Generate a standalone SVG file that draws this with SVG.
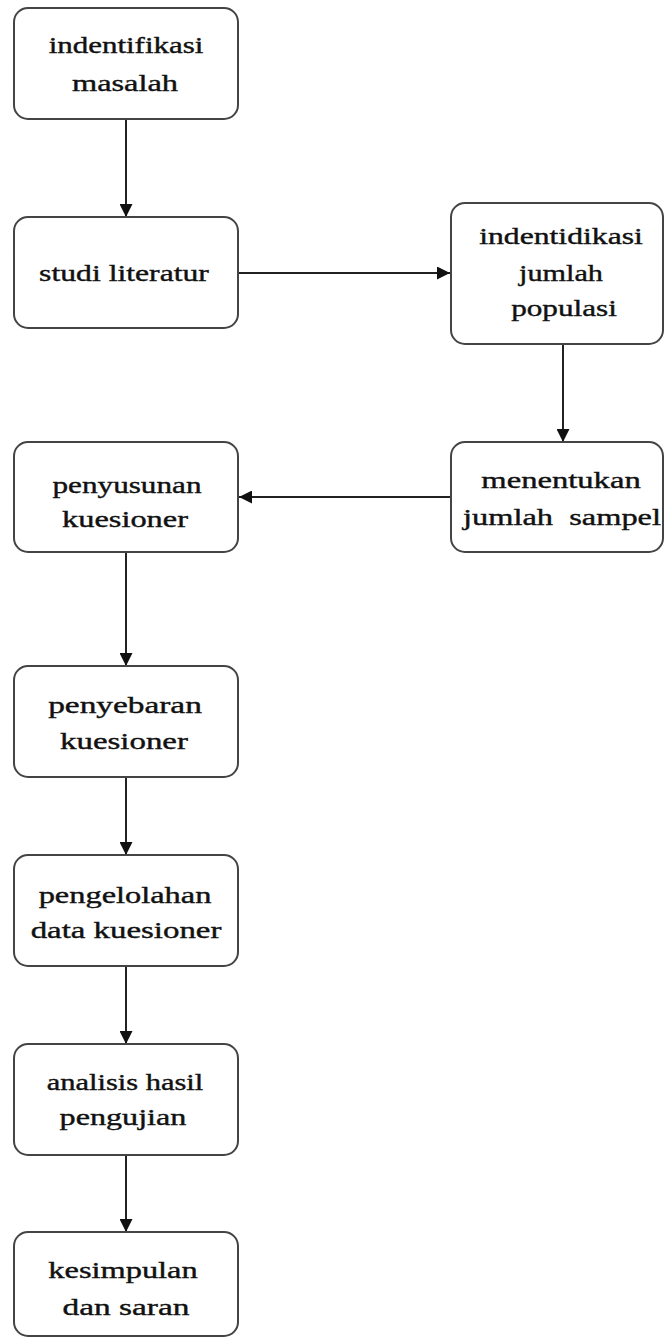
<svg xmlns="http://www.w3.org/2000/svg" width="665" height="1338" viewBox="0 0 665 1338">
<style>
.box{fill:#fff;stroke:#444;stroke-width:2}
.t{font-family:"Liberation Serif","Times New Roman",serif;font-size:24px;fill:#111;stroke:#111;stroke-width:0.4;text-anchor:middle;white-space:pre}
.c{stroke:#222;stroke-width:2;fill:none;marker-end:url(#ah)}
</style>
<defs>
<marker id="ah" markerWidth="13" markerHeight="13" refX="13" refY="6.5" orient="auto" markerUnits="userSpaceOnUse">
<path d="M0,0 L13,6.5 L0,13 Z" fill="#111"/>
</marker>
</defs>
<rect width="665" height="1338" fill="#fff"/>
<g id="connectors">
<line class="c" x1="126" y1="119" x2="126" y2="217"/>
<line class="c" x1="238" y1="273" x2="450" y2="273"/>
<line class="c" x1="563" y1="344" x2="563" y2="442"/>
<line class="c" x1="451" y1="497" x2="239" y2="497"/>
<line class="c" x1="126" y1="552" x2="126" y2="666"/>
<line class="c" x1="126" y1="777" x2="126" y2="855"/>
<line class="c" x1="126" y1="966" x2="126" y2="1044"/>
<line class="c" x1="126" y1="1155" x2="126" y2="1232"/>
</g>
<g id="n1">
<rect class="box" x="14" y="8" width="224" height="111" rx="14"/>
<text class="t" transform="matrix(1.29 0 0 1 126 53)">indentifikasi</text>
<text class="t" transform="matrix(1.35 0 0 1 125 91)">masalah</text>
</g>
<g id="n2">
<rect class="box" x="14" y="217" width="224" height="111" rx="14"/>
<text class="t" transform="matrix(1.32 0 0 1 124 281)">studi literatur</text>
</g>
<g id="n3">
<rect class="box" x="451" y="203" width="212" height="141" rx="14"/>
<text class="t" transform="matrix(1.32 0 0 1 561 244)">indentidikasi</text>
<text class="t" transform="matrix(1.26 0 0 1 561 281)">jumlah</text>
<text class="t" transform="matrix(1.30 0 0 1 564 316)">populasi</text>
</g>
<g id="n4">
<rect class="box" x="14" y="442" width="224" height="110" rx="14"/>
<text class="t" transform="matrix(1.30 0 0 1 127 493)">penyusunan</text>
<text class="t" transform="matrix(1.35 0 0 1 125 527)">kuesioner</text>
</g>
<g id="n5">
<rect class="box" x="451" y="442" width="212" height="110" rx="14"/>
<text class="t" transform="matrix(1.36 0 0 1 561 488)">menentukan</text>
<text class="t" transform="matrix(1.35 0 0 1 562 525)" xml:space="preserve">jumlah  sampel</text>
</g>
<g id="n6">
<rect class="box" x="14" y="666" width="224" height="111" rx="14"/>
<text class="t" transform="matrix(1.39 0 0 1 125 713)">penyebaran</text>
<text class="t" transform="matrix(1.37 0 0 1 124 749)">kuesioner</text>
</g>
<g id="n7">
<rect class="box" x="14" y="855" width="224" height="111" rx="14"/>
<text class="t" transform="matrix(1.35 0 0 1 125 903)">pengelolahan</text>
<text class="t" transform="matrix(1.37 0 0 1 126 938)">data kuesioner</text>
</g>
<g id="n8">
<rect class="box" x="14" y="1044" width="224" height="111" rx="14"/>
<text class="t" transform="matrix(1.27 0 0 1 125 1090)">analisis hasil</text>
<text class="t" transform="matrix(1.34 0 0 1 123 1125)">pengujian</text>
</g>
<g id="n9">
<rect class="box" x="14" y="1232" width="224" height="104" rx="14"/>
<text class="t" transform="matrix(1.35 0 0 1 123 1278)">kesimpulan</text>
<text class="t" transform="matrix(1.39 0 0 1 126 1315)">dan saran</text>
</g>
</svg>
